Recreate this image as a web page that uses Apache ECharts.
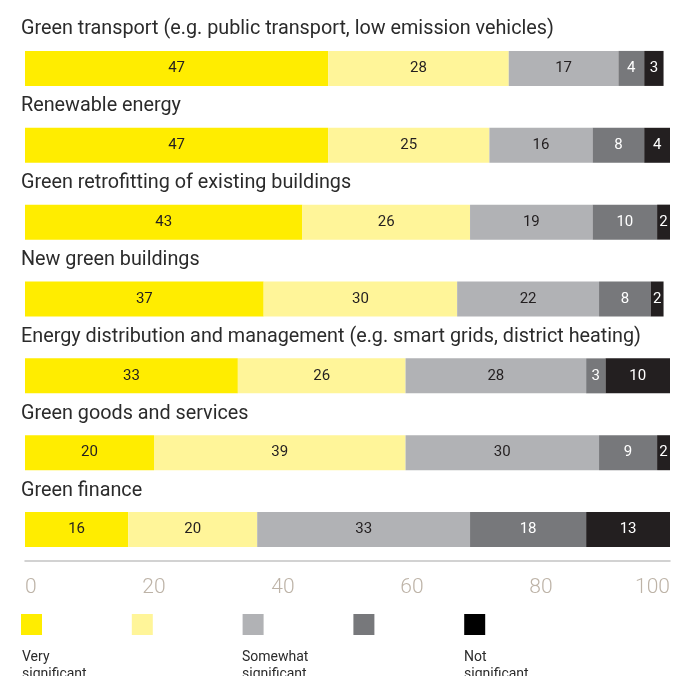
<!DOCTYPE html>
<html>
<head>
<meta charset="utf-8">
<style>
  html, body { margin: 0; padding: 0; background: #fff; }
  #chart { width: 690px; height: 676px; }
</style>
<script src="https://cdn.jsdelivr.net/npm/echarts@6/dist/echarts.min.js"></script>
</head>
<body>
<div id="chart"></div>
<script>
// Share of respondents rating each area, stacked from "very significant" to "not significant"
const categories = [
  'Green transport (e.g. public transport, low emission vehicles)',
  'Renewable energy',
  'Green retrofitting of existing buildings',
  'New green buildings',
  'Energy distribution and management (e.g. smart grids, district heating)',
  'Green goods and services',
  'Green finance'
];
const verySignificant   = [47, 47, 43, 37, 33, 20, 16];
const fairlySignificant = [28, 25, 26, 30, 26, 39, 20];
const somewhatSignificant = [17, 16, 19, 22, 28, 30, 33];
const slightlySignificant = [4, 8, 10, 8, 3, 9, 18];
const notSignificant    = [3, 4, 2, 2, 10, 2, 13];

const xTicks = [0, 20, 40, 60, 80, 100];

const seriesNames = ['Very significant', 'Fairly significant', 'Somewhat significant', 'Slightly significant', 'Not significant'];
const legendLabels = ['Very\nsignificant', '', 'Somewhat\nsignificant', '', 'Not\nsignificant'];

const seriesData = [verySignificant, fairlySignificant, somewhatSignificant, slightlySignificant, notSignificant];
const barColors = ['#FFED00', '#FFF599', '#B1B2B5', '#77787B', '#231F20'];
const legendColors = ['#FFED00', '#FFF599', '#B1B2B5', '#77787B', '#000000'];
const labelColors = ['#231F20', '#231F20', '#231F20', '#FFFFFF', '#FFFFFF'];

const FONT = 'Roboto, "Liberation Sans", sans-serif';

const chart = echarts.init(document.getElementById('chart'), null, { renderer: 'canvas' });

const series = seriesData.map((values, i) => ({
  name: seriesNames[i],
  type: 'bar',
  stack: 'total',
  barWidth: 35,
  data: values,
  itemStyle: { color: barColors[i] },
  label: {
    show: true,
    position: 'inside',
    color: labelColors[i],
    fontFamily: FONT,
    fontSize: 15
  },
  emphasis: { disabled: true }
}));

const legendTextLefts = [22, 131, 242, 354, 464];

chart.setOption({
  animation: false,
  backgroundColor: '#ffffff',
  grid: {
    left: 25,
    right: 20,
    top: 30,
    bottom: 108,
    containLabel: false,
    outerBoundsMode: 'none'
  },
  xAxis: {
    type: 'value',
    min: xTicks[0],
    max: xTicks[xTicks.length - 1],
    interval: 20,
    offset: -7,
    axisLine: { show: true, lineStyle: { color: '#C4C4C4', width: 1.5 } },
    axisTick: { show: false },
    splitLine: { show: false },
    axisLabel: {
      color: '#BDB3A7',
      fontFamily: FONT,
      fontWeight: 300,
      fontSize: 21,
      margin: 16,
      alignMinLabel: 'left',
      alignMaxLabel: 'right'
    }
  },
  yAxis: {
    type: 'category',
    inverse: true,
    data: categories,
    axisLine: { show: false },
    axisTick: { show: false },
    axisLabel: {
      interval: 0,
      align: 'left',
      verticalAlign: 'middle',
      margin: 4,
      width: 680,
      overflow: 'none',
      hideOverlap: false,
      // category title sits on its own line above the bar
      formatter: (v) => '{t|' + v + '}\n{gap|}',
      rich: {
        t: {
          color: '#2B2B2B',
          fontFamily: FONT,
          fontSize: 19.8,
          lineHeight: 22,
          align: 'left'
        },
        gap: { height: 78, lineHeight: 78 }
      }
    }
  },
  legend: {
    left: 21,
    top: 614,
    padding: 0,
    itemWidth: 21,
    itemHeight: 21,
    itemGap: 89.8,
    icon: 'rect',
    selectedMode: false,
    formatter: () => '',
    data: seriesNames.map((n, i) => ({ name: n, itemStyle: { color: legendColors[i] } }))
  },
  graphic: legendLabels.map((t, i) => ({
    type: 'text',
    left: legendTextLefts[i],
    top: 649,
    silent: true,
    style: {
      text: t,
      fill: '#2B2B2B',
      font: '14px ' + FONT,
      lineHeight: 17
    }
  })).filter(g => g.style.text !== ''),
  series: series
});
</script>
</body>
</html>
